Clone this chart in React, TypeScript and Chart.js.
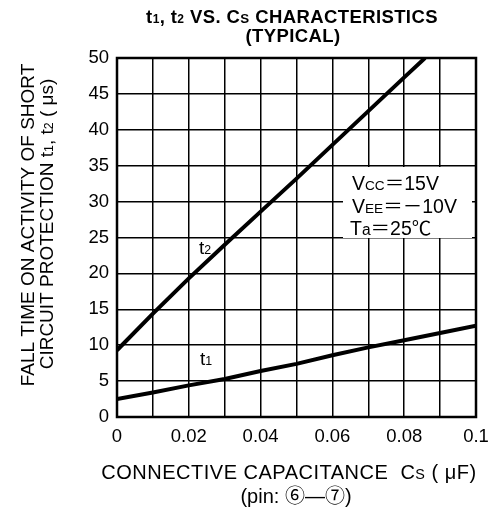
import React, { useEffect, useRef } from "react";
import { Chart, registerables } from "chart.js";

Chart.register(...registerables);

// ---- data ----
const t1Cs = [0, 0.01, 0.02, 0.03, 0.04, 0.05, 0.06, 0.07, 0.08, 0.09, 0.1];
const t1Values = [2.5, 3.4, 4.4, 5.3, 6.4, 7.4, 8.6, 9.7, 10.7, 11.7, 12.7];
const t2Cs = [0, 0.01, 0.02, 0.03, 0.04, 0.05, 0.06, 0.07, 0.08, 0.0858];
const t2Values = [9.3, 14.4, 19.3, 24.0, 28.6, 33.2, 37.9, 42.6, 47.3, 50];
const xGridValues = [0, 0.01, 0.02, 0.03, 0.04, 0.05, 0.06, 0.07, 0.08, 0.09, 0.1];
const xTickValues = [0, 0.02, 0.04, 0.06, 0.08, 0.1];
const xTickLabels = ["0", "0.02", "0.04", "0.06", "0.08", "0.1"];
const yTickLabels = ["0", "5", "10", "15", "20", "25", "30", "35", "40", "45", "50"];

const FONT = '"Liberation Sans", Arial, "Noto Sans CJK JP", "DejaVu Sans", sans-serif';

type Seg = { t: string; s?: number; dy?: number };

function drawRich(
  ctx: CanvasRenderingContext2D,
  segs: Seg[],
  x: number,
  y: number,
  size: number,
  weight: string,
  align: "left" | "center"
) {
  const fontOf = (sc: number) => `${weight} ${size * sc}px ${FONT}`;
  let total = 0;
  const widths: number[] = [];
  for (const sg of segs) {
    ctx.font = fontOf(sg.s ?? 1);
    const w = ctx.measureText(sg.t).width;
    widths.push(w);
    total += w;
  }
  let cx = align === "center" ? x - total / 2 : x;
  ctx.textAlign = "left";
  ctx.textBaseline = "alphabetic";
  segs.forEach((sg, i) => {
    ctx.font = fontOf(sg.s ?? 1);
    ctx.fillText(sg.t, cx, y + (sg.dy ?? 0));
    cx += widths[i];
  });
}

const SUB = 0.65;

const textPlugin = {
  id: "textPlugin",
  beforeDatasetsDraw(chart: any) {
    const { ctx, chartArea } = chart;
    ctx.save();
    // white box behind the conditions text
    ctx.fillStyle = "#fff";
    ctx.fillRect(343, 167, 129, 71);
    // frame
    ctx.strokeStyle = "#000";
    ctx.lineWidth = 2.5;
    ctx.strokeRect(chartArea.left, chartArea.top, chartArea.right - chartArea.left, chartArea.bottom - chartArea.top);
    ctx.restore();
  },
  afterDatasetsDraw(chart: any) {
    const { ctx } = chart;
    ctx.save();
    ctx.fillStyle = "#000";
    // title
    ctx.letterSpacing = "0.4px";
    drawRich(
      ctx,
      [
        { t: "t" },
        { t: "1", s: SUB },
        { t: ", t" },
        { t: "2", s: SUB },
        { t: " VS. C" },
        { t: "S", s: 0.72 },
        { t: " CHARACTERISTICS" },
      ],
      292,
      23,
      18.5,
      "bold",
      "center"
    );
    drawRich(ctx, [{ t: "(TYPICAL)" }], 293, 42, 18.5, "bold", "center");
    ctx.letterSpacing = "0px";

    // y-axis title (rotated)
    ctx.save();
    ctx.translate(34, 225);
    ctx.rotate(-Math.PI / 2);
    drawRich(ctx, [{ t: "FALL TIME ON ACTIVITY OF SHORT" }], 0, 0, 19, "normal", "center");
    ctx.restore();
    ctx.save();
    ctx.translate(53, 224);
    ctx.rotate(-Math.PI / 2);
    drawRich(
      ctx,
      [
        { t: "CIRCUIT PROTECTION t" },
        { t: "1", s: SUB },
        { t: ", t" },
        { t: "2", s: SUB },
        { t: " ( μs)" },
      ],
      0,
      0,
      19,
      "normal",
      "center"
    );
    ctx.restore();

    // x-axis title
    ctx.letterSpacing = "0.5px";
    drawRich(
      ctx,
      [
        { t: "CONNECTIVE CAPACITANCE  C" },
        { t: "S", s: 0.72 },
        { t: " ( μF)" },
      ],
      289,
      479,
      20,
      "normal",
      "center"
    );
    ctx.letterSpacing = "0px";
    drawRich(ctx, [{ t: "(pin: ⑥—⑦)" }], 296, 503, 20, "normal", "center");

    // conditions
    drawRich(ctx, [{ t: "V" }, { t: "CC", s: 0.7 }, { t: "＝15V" }], 352, 190, 19.5, "normal", "left");
    drawRich(ctx, [{ t: "V" }, { t: "EE", s: 0.7 }, { t: "＝－10V" }], 352, 213, 19.5, "normal", "left");
    drawRich(ctx, [{ t: "T" }, { t: "a", s: 0.8 }, { t: "＝25℃" }], 350, 235, 19.5, "normal", "left");

    // curve labels
    drawRich(ctx, [{ t: "t" }, { t: "2", s: SUB }], 199, 254, 19, "normal", "left");
    drawRich(ctx, [{ t: "t" }, { t: "1", s: SUB }], 200, 365, 19, "normal", "left");
    ctx.restore();
  },
};

export default function App() {
  const ref = useRef<HTMLCanvasElement | null>(null);
  useEffect(() => {
    if (!ref.current) return;
    const chart = new Chart(ref.current, {
      type: "scatter",
      data: {
        datasets: [
          {
            data: t1Cs.map((x, i) => ({ x, y: t1Values[i] })),
            showLine: true,
            borderColor: "#000",
            borderWidth: 4,
            pointRadius: 0,
            tension: 0,
          },
          {
            data: t2Cs.map((x, i) => ({ x, y: t2Values[i] })),
            showLine: true,
            borderColor: "#000",
            borderWidth: 4,
            pointRadius: 0,
            tension: 0,
          },
        ],
      },
      options: {
        responsive: false,
        animation: false,
        layout: { padding: { top: 58, right: 13, left: 0, bottom: 0 } },
        plugins: {
          legend: { display: false },
          tooltip: { enabled: false },
          title: { display: false },
        },
        scales: {
          x: {
            type: "linear",
            min: 0,
            max: 0.1,
            afterBuildTicks: (scale: any) => {
              scale.ticks = xGridValues.map((v) => ({ value: v }));
            },
            afterFit: (scale: any) => {
              scale.height = 93;
              scale.paddingLeft = 0;
              scale.paddingRight = 0;
            },
            ticks: {
              autoSkip: false,
              maxRotation: 0,
              padding: 9,
              color: "#000",
              font: { family: FONT, size: 18.5 },
              callback: (v: any) => {
                const idx = xTickValues.findIndex((t) => Math.abs(t - Number(v)) < 1e-9);
                return idx >= 0 ? xTickLabels[idx] : "";
              },
            },
            grid: { color: "#000", lineWidth: 1.5, drawTicks: false },
            border: { display: false },
          },
          y: {
            type: "linear",
            min: 0,
            max: 50,
            afterFit: (scale: any) => {
              scale.width = 117;
              scale.paddingTop = 0;
              scale.paddingBottom = 0;
            },
            ticks: {
              stepSize: 5,
              padding: 8,
              color: "#000",
              font: { family: FONT, size: 18.5 },
              callback: (_v: any, i: number) => yTickLabels[i],
            },
            grid: { color: "#000", lineWidth: 1.5, drawTicks: false },
            border: { display: false },
          },
        },
      },
      plugins: [textPlugin],
    } as any);
    return () => chart.destroy();
  }, []);
  return (
    <div style={{ position: "absolute", left: 0, top: 0, width: 489, height: 510, background: "#fff" }}>
      <canvas ref={ref} width={489} height={510} style={{ display: "block", width: 489, height: 510 }} />
    </div>
  );
}
